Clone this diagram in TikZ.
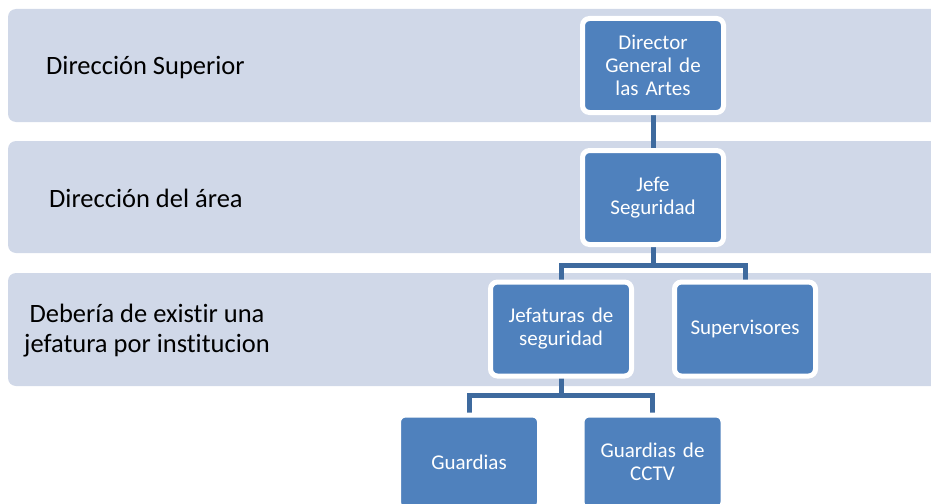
\documentclass[tikz,border=0pt]{standalone}
\usepackage{fontspec}
\setmainfont[Ligatures=NoCommon]{Carlito}
\usetikzlibrary{positioning}
\definecolor{bandcol}{HTML}{D0D8E8}
\definecolor{boxblue}{HTML}{4F81BD}
\definecolor{linkcol}{RGB}{62,106,158}
\pgfdeclarelayer{bands}
\pgfdeclarelayer{links}
\pgfsetlayers{bands,links,main}
\tikzset{
  band/.style={fill=bandcol, rounded corners=8pt},
  orgbox/.style={fill=boxblue, draw=white, line width=5pt, rounded corners=7pt,
    minimum width=141pt, minimum height=94pt, text width=128pt, align=center,
    inner sep=0pt, text=white, font=\fontsize{21}{23}\selectfont},
  bandlabel/.style={inner sep=0pt, text=black, font=\fontsize{26.5}{30}\selectfont},
  link/.style={draw=linkcol, line width=5pt}
}
\begin{document}
\begin{tikzpicture}[x=1pt,y=-1pt]
\clip (0,0) rectangle (931,503);
\begin{pgfonlayer}{bands}
\fill[band] (8,9) rectangle (960,122);
\fill[band] (8,141) rectangle (960,253);
\fill[band] (8,273) rectangle (960,386);
\end{pgfonlayer}
\node[bandlabel, anchor=west] (l1) at (46,67.5) {Dirección Superior};
\node[bandlabel, anchor=west] (l2) at (49,198) {Dirección del área};
\node[bandlabel, align=center] (l3) at (147,330.5) {Debería de existir una\\jefatura por institucion};

\node[orgbox] (dir) at (653,65.5) {Director General de las Artes};
\node[orgbox] (jefe) at (653,197.5) {Jefe\\Seguridad};
\node[orgbox] (jt) at (561,329) {Jefaturas de seguridad};
\node[orgbox] (sup) at (745,329) {Supervisores};
\node[orgbox] (gu) at (469,462) {Guardias};
\node[orgbox] (cctv) at (652.5,462) {Guardias de\\CCTV};

\coordinate (bus1) at (0,265);
\coordinate (bus2) at (0,395);
\begin{pgfonlayer}{links}
\draw[link] (dir.center) -- (jefe.center);
\draw[link] (jefe.center) -- (jefe.center |- bus1) -| (jt.center);
\draw[link] (jefe.center |- bus1) -| (sup.center);
\draw[link] (jt.center) -- (jt.center |- bus2) -| (gu.center);
\draw[link] (jt.center |- bus2) -| (cctv.center);
\end{pgfonlayer}
\end{tikzpicture}
\end{document}
